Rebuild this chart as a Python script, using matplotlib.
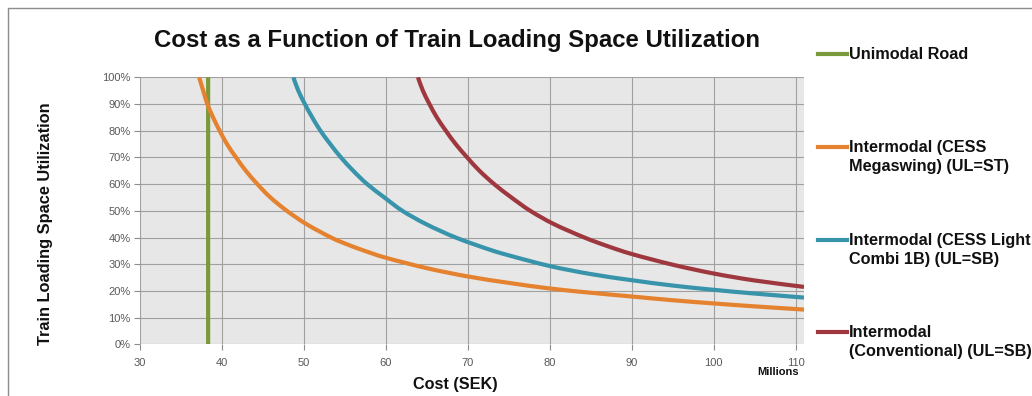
import matplotlib
matplotlib.use("Agg")
import matplotlib.pyplot as plt
from matplotlib.lines import Line2D
from matplotlib.patches import Rectangle, PathPatch
from matplotlib.path import Path
from matplotlib.ticker import FuncFormatter

plt.rcParams['font.family'] = ['Liberation Sans', 'DejaVu Sans']

# Cost (million SEK) at a given train loading space utilization (%)
road_cost = [38.3, 38.3]
road_util = [0, 100]

mega_cost = [37.2, 37.7, 38.2, 38.9, 39.7, 40.6, 41.7, 42.9, 44.3, 45.9, 47.9,
             50.3, 53.3, 55.2, 57.4, 60.0, 65.0, 70.0, 75.0, 80.0, 85.0,
             90.0, 95.0, 100.0, 105.0, 111.0]
mega_util = [100, 95, 90, 85, 80, 75, 70, 65, 60, 55, 50,
             45, 40, 37.5, 35, 32.4, 28.5, 25.4, 23.0, 20.9, 19.3,
             17.9, 16.5, 15.3, 14.2, 13.0]

light_cost = [48.7, 49.3, 50.1, 51.0, 52.0, 53.2, 54.5, 56.0, 57.7, 59.8,
              62.0, 64.9, 68.5, 72.5, 75.0, 80.0, 85.0, 90.0, 95.0,
              100.0, 105.0, 111.0]
light_util = [100, 95, 90, 85, 80, 75, 70, 65, 60, 55,
              50, 45, 40, 35.6, 33.3, 29.3, 26.3, 24.0, 22.0,
              20.4, 19.0, 17.5]

conv_cost = [63.9, 64.5, 65.3, 66.2, 67.3, 68.5, 69.9, 71.4, 73.2, 75.3,
             77.6, 80.5, 84.2, 87.0, 90.0, 95.0, 100.0, 105.0, 111.0]
conv_util = [100, 95, 90, 85, 80, 75, 70, 65, 60, 55,
             50, 45, 40, 36.8, 33.8, 29.8, 26.5, 23.9, 21.5]

series_labels = ["Unimodal Road",
                 "Intermodal (CESS\nMegaswing) (UL=ST)",
                 "Intermodal (CESS Light\nCombi 1B) (UL=SB)",
                 "Intermodal\n(Conventional) (UL=SB)"]
series_colors = ['#7A9A3A', '#E5822F', '#3894AA', '#9E383E']

x_ticks = [30, 40, 50, 60, 70, 80, 90, 100, 110]
y_ticks = [0, 10, 20, 30, 40, 50, 60, 70, 80, 90, 100]


def smoothed_path(xs, ys, k=1 / 6):
    """Smoothed line through the points (Catmull-Rom as cubic Bezier)."""
    pts = list(zip(xs, ys))
    verts = [pts[0]]
    codes = [Path.MOVETO]
    n = len(pts)
    for i in range(n - 1):
        p0 = pts[i - 1] if i > 0 else pts[i]
        p1 = pts[i]
        p2 = pts[i + 1]
        p3 = pts[i + 2] if i + 2 < n else pts[i + 1]
        c1 = (p1[0] + (p2[0] - p0[0]) * k, p1[1] + (p2[1] - p0[1]) * k)
        c2 = (p2[0] - (p3[0] - p1[0]) * k, p2[1] - (p3[1] - p1[1]) * k)
        verts += [c1, c2, p2]
        codes += [Path.CURVE4] * 3
    return Path(verts, codes)


W, H = 1032, 396
fig = plt.figure(figsize=(W / 100, H / 100), dpi=100)
fig.patch.set_facecolor('white')

# outer chart frame
fig.add_artist(Rectangle((8 / W, -0.1), 1.2, 1 - 8 / H + 0.1, transform=fig.transFigure,
                         fill=False, edgecolor='#8C8C8C', linewidth=1.0))

ax = fig.add_axes([140.1 / W, 51.7 / H, (804 - 140.1) / W, 267 / H])
ax.set_facecolor('#E7E7E7')

data = [(road_cost, road_util), (mega_cost, mega_util),
        (light_cost, light_util), (conv_cost, conv_util)]
for (c, u), col in zip(data, series_colors):
    ax.add_patch(PathPatch(smoothed_path(c, u), fill=False, edgecolor=col,
                           linewidth=3.0, capstyle='butt', zorder=3))

ax.set_xlim(30, 111)
ax.set_ylim(0, 100)
ax.set_xticks(x_ticks)
ax.set_yticks(y_ticks)
ax.yaxis.set_major_formatter(FuncFormatter(lambda v, p: f"{int(v)}%"))
ax.grid(True, color='#A0A0A0', linewidth=0.8, zorder=1)
ax.set_axisbelow(True)
for s in ax.spines.values():
    s.set_visible(False)
ax.tick_params(axis='both', colors='#8C8C8C', labelcolor='#595959', labelsize=8, length=4, width=0.8)
ax.tick_params(axis='x', pad=6)
ax.tick_params(axis='y', pad=3)

fig.text(457 / W, 1 - 40 / H, "Cost as a Function of Train Loading Space Utilization",
         ha='center', va='center', fontsize=17.3, fontweight='bold', color='#111111')
fig.text(45.7 / W, 1 - 224 / H, "Train Loading Space Utilization", rotation=90,
         ha='center', va='center', fontsize=11.8, fontweight='bold', color='#111111')
fig.text(455 / W, 1 - 384 / H, "Cost (SEK)", ha='center', va='center',
         fontsize=11.7, fontweight='bold', color='#111111')
fig.text(778 / W, 1 - 372 / H, "Millions", ha='center', va='center',
         fontsize=8, fontweight='bold', color='#111111')

# legend on the right
legend_y = [54, 147, 240, 332]
for y, lab, col in zip(legend_y, series_labels, series_colors):
    fig.add_artist(Line2D([818 / W, 847 / W], [1 - y / H, 1 - y / H], transform=fig.transFigure,
                          color=col, linewidth=3.0))
    fig.text(849 / W, 1 - (y - 7) / H, lab, ha='left', va='top', fontsize=11.7,
             fontweight='bold', color='#111111', linespacing=1.36)

fig.savefig("out.png", dpi=100)
